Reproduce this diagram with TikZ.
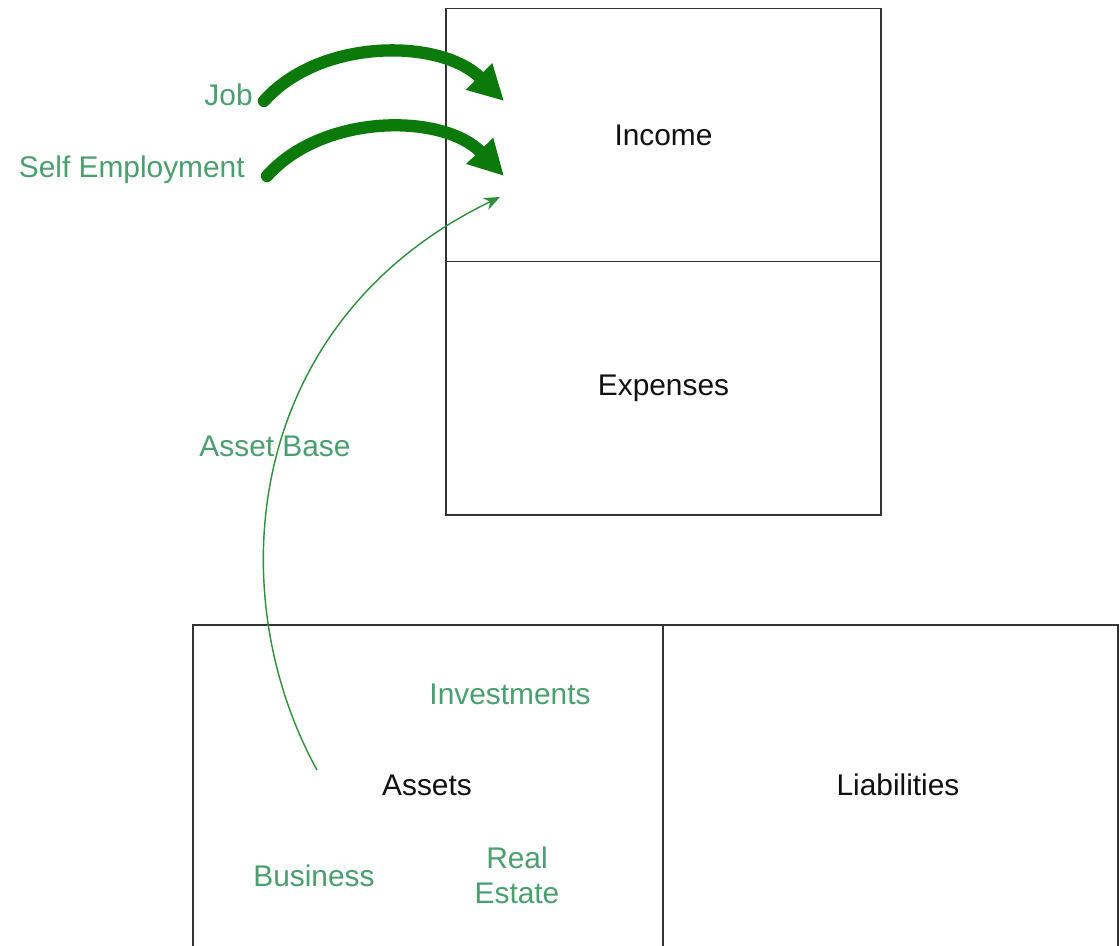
\documentclass[tikz,border=0pt]{standalone}
\usepackage{fontspec}
\setmainfont{Liberation Sans}
\usetikzlibrary{arrows.meta,positioning}
\definecolor{Ink}{HTML}{111111}
\definecolor{Frame}{HTML}{333333}
\definecolor{LeafGreen}{HTML}{4A9F6E}
\definecolor{FlowGreen}{HTML}{0B7A0B}
\definecolor{ThinGreen}{HTML}{2E8E3A}
\tikzset{
  box/.style={draw=Frame,line width=0.8pt,minimum width=8.7cm,minimum height=5.07cm,inner sep=0pt,outer sep=0pt,text=Ink},
  lowbox/.style={box,minimum height=6.7cm},
  lbl/.style={text=LeafGreen,inner sep=0pt,align=center},
  bigArrow/.style={-{Triangle[length=7mm,width=7mm]},line width=7pt,line cap=round,draw=FlowGreen},
  thinArrow/.style={-{Stealth[length=3.2mm,width=2.6mm]},line width=0.8pt,draw=ThinGreen}
}
\begin{document}
\begin{tikzpicture}[x=0.02cm,y=-0.02cm,font=\fontsize{17}{20}\selectfont]
  \useasboundingbox (0,0) rectangle (1120,946);
  \fill[white] (0,0) rectangle (1120,946);
  \clip (0,0) rectangle (1120,946);
  % income statement
  \node[box] (income) at (663.5,135) {Income};
  \node[box,below=0pt of income] (expenses) {Expenses};
  % balance sheet, runs off the bottom
  \node[lowbox,minimum width=9.4cm,anchor=north west] (assets) at (193,625) {};
  \node[lowbox,minimum width=9.1cm,right=0pt of assets] (liabilities) {};
  \node[text=Ink] (assetsT) at (427,785) {Assets};
  \node[text=Ink] (liabT) at (898,785) {Liabilities};
  % sources of income
  \node[lbl,anchor=east] (job) at (253,95) {Job};
  \node[lbl,anchor=east] (selfemp) at (245,170) {Self Employment};
  \node[lbl] (assetbase) at (275,446) {Asset Base};
  \node[lbl] (invest) at (510,694) {Investments};
  \node[lbl] (business) at (314,876) {Business};
  \node[lbl] (realestate) at (517,875) {Real\\Estate};
  \coordinate (jobout) at (264,101);
  \coordinate (selfout) at (267,176);
  \coordinate (jobin) at (504,101);
  \coordinate (selfin) at (504,176);
  \coordinate (basein) at (500,197);
  \coordinate (basestart) at (317,770);
  \draw[bigArrow] (jobout) .. controls (320,38) and (440,38) .. (jobin);
  \draw[bigArrow] (selfout) .. controls (323,113) and (443,113) .. (selfin);
  \draw[thinArrow] (basestart) .. controls (218,590) and (245,320) .. (basein);
\end{tikzpicture}
\end{document}
